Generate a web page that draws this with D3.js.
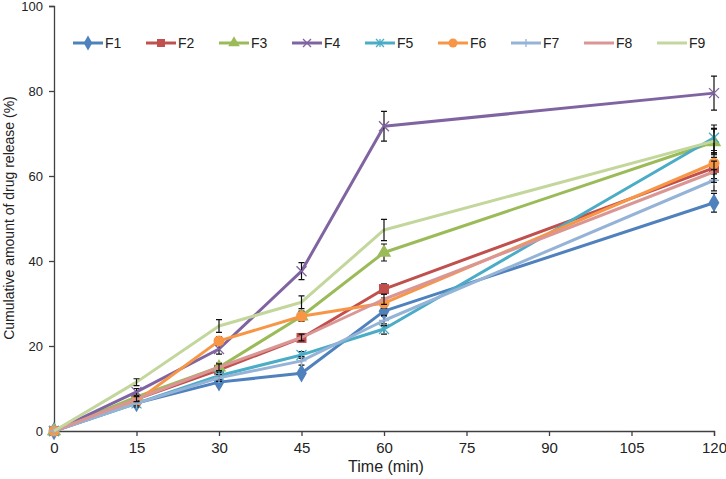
<!doctype html>
<html lang="en">
<head>
<meta charset="UTF-8" />
<title>Cumulative drug release</title>
<script src="https://d3js.org/d3.v7.min.js"></script>
<style>
	body { margin: 0; background: #fff; }
	svg { font-family: "Liberation Sans", Arial, sans-serif; }
	.axis path, .axis line { stroke: #404040; stroke-width: 1.3px; }
	.axis text { fill: #222; font-size: 13px; }
	.xaxis text { font-family: "Liberation Sans Narrow", "Liberation Sans", Arial, sans-serif; font-size: 15px; }
</style>
</head>
<body>
<svg width="726" height="479"></svg>
<script>
const times = [0, 15, 30, 45, 60, 120]
const seriesNames = ['F1', 'F2', 'F3', 'F4', 'F5', 'F6', 'F7', 'F8', 'F9']
const colors = ['#4F81BD', '#C0504D', '#9BBB59', '#8064A2', '#4BACC6', '#F79646', '#95B3D7', '#D99694', '#C3D69B']
const markers = ['diamond', 'square', 'triangle', 'x', 'star', 'circle', 'plus', 'none', 'none']

const F1 = [0, 6.6, 11.5, 13.6, 28.2, 53.7]
const F2 = [0, 7.5, 14.4, 21.9, 33.4, 61.9]
const F3 = [0, 8.0, 15.0, 27.0, 42.0, 68.0]
const F4 = [0, 9.2, 19.3, 37.6, 71.7, 79.5]
const F5 = [0, 6.5, 13.0, 17.9, 24.0, 69.0]
const F6 = [0, 7.0, 21.2, 27.0, 30.1, 63.0]
const F7 = [0, 6.5, 12.5, 16.5, 26.0, 59.0]
const F8 = [0, 7.5, 15.0, 22.0, 31.0, 61.0]
const F9 = [0, 11.5, 24.7, 30.3, 47.3, 68.2]

const F1err = [0, 0.6, 0.8, 0.6, 1.2, 2.2]
const F2err = [0, 0.6, 1.0, 0.8, 1.2, 2.5]
const F3err = [0, 0.6, 1.0, 1.2, 2.0, 3.0]
const F4err = [0, 0.8, 1.2, 2.0, 3.5, 4.0]
const F5err = [0, 0.8, 0.8, 0.8, 1.2, 3.0]
const F6err = [0, 0.6, 1.0, 1.0, 1.2, 2.5]
const F7err = [0, 0.6, 0.8, 1.0, 1.2, 2.5]
const F8err = [0, 0.6, 0.8, 0.8, 1.2, 2.5]
const F9err = [0, 0.8, 1.5, 1.5, 2.5, 3.0]

const values = [F1, F2, F3, F4, F5, F6, F7, F8, F9]
const errors = [F1err, F2err, F3err, F4err, F5err, F6err, F7err, F8err, F9err]
const xTicks = [0, 15, 30, 45, 60, 75, 90, 105, 120]
const yTicks = [0, 20, 40, 60, 80, 100]

const svg = d3.select('svg')
const x = d3.scaleLinear().domain([0, 120]).range([54, 714])
const y = d3.scaleLinear().domain([0, 100]).range([431, 6])

svg.append('g')
	.attr('class', 'axis xaxis')
	.attr('transform', 'translate(0,431)')
	.call(d3.axisBottom(x).tickValues(xTicks).tickSizeOuter(0).tickSize(5).tickPadding(6))

svg.append('g')
	.attr('class', 'axis')
	.attr('transform', 'translate(54,0)')
	.call(d3.axisLeft(y).tickValues(yTicks).tickSizeOuter(0).tickSize(5).tickPadding(6))

svg.append('text')
	.attr('x', 386).attr('y', 472)
	.attr('text-anchor', 'middle')
	.attr('font-family', '"Liberation Sans Narrow", "Liberation Sans", Arial, sans-serif')
	.attr('font-size', 16).attr('fill', '#222')
	.text('Time (min)')

svg.append('text')
	.attr('transform', 'translate(14,218) rotate(-90)')
	.attr('text-anchor', 'middle')
	.attr('font-size', 14).attr('fill', '#222')
	.text('Cumulative amount of drug release (%)')

function drawMarker(g, type, color, size) {
	const s = size
	if (type === 'diamond') {
		g.append('path').attr('d', d3.symbol(d3.symbolDiamond, s * s * 1.0)()).attr('fill', color)
	} else if (type === 'square') {
		g.append('rect').attr('x', -s / 2).attr('y', -s / 2).attr('width', s).attr('height', s).attr('fill', color)
	} else if (type === 'triangle') {
		g.append('path').attr('d', d3.symbol(d3.symbolTriangle, s * s * 0.9)()).attr('fill', color)
	} else if (type === 'circle') {
		g.append('circle').attr('r', s / 2 + 0.5).attr('fill', color)
	} else if (type === 'x') {
		const h = s / 2
		g.append('path').attr('d', `M${-h},${-h}L${h},${h}M${-h},${h}L${h},${-h}`)
			.attr('stroke', color).attr('stroke-width', 1.3).attr('fill', 'none')
	} else if (type === 'star') {
		const h = s / 2
		g.append('path').attr('d', `M${-h},${-h}L${h},${h}M${-h},${h}L${h},${-h}M0,${-h}L0,${h}`)
			.attr('stroke', color).attr('stroke-width', 1.3).attr('fill', 'none')
	} else if (type === 'plus') {
		const h = s / 2
		g.append('path').attr('d', `M${-h},0L${h},0M0,${-h}L0,${h}`)
			.attr('stroke', color).attr('stroke-width', 1.3).attr('fill', 'none')
	}
}

const line = d3.line().x((d) => x(d[0])).y((d) => y(d[1]))

seriesNames.forEach((name, i) => {
	const pts = times.map((t, j) => [t, values[i][j], errors[i][j]])
	const g = svg.append('g')
	g.append('path')
		.datum(pts)
		.attr('d', line)
		.attr('fill', 'none')
		.attr('stroke', colors[i])
		.attr('stroke-width', 3)
		.attr('stroke-linejoin', 'round')

	pts.filter((d) => d[2] > 0).forEach((d) => {
		const cx = x(d[0])
		const y1 = y(d[1] + d[2])
		const y2 = y(d[1] - d[2])
		g.append('path')
			.attr('d', `M${cx},${y1}L${cx},${y2}M${cx - 3},${y1}L${cx + 3},${y1}M${cx - 3},${y2}L${cx + 3},${y2}`)
			.attr('stroke', '#111').attr('stroke-width', 1.2).attr('fill', 'none')
	})

	pts.forEach((d) => {
		const m = g.append('g').attr('transform', `translate(${x(d[0])},${y(d[1])})`)
		drawMarker(m, markers[i], colors[i], 10)
	})
})

// legend
const legend = svg.append('g').attr('transform', 'translate(73,43)')
seriesNames.forEach((name, i) => {
	const item = legend.append('g').attr('transform', `translate(${i * 73},0)`)
	item.append('line').attr('x1', 0).attr('x2', 30)
		.attr('stroke', colors[i]).attr('stroke-width', 3)
	const m = item.append('g').attr('transform', 'translate(15,0)')
	drawMarker(m, markers[i], colors[i], 8)
	item.append('text').attr('x', 32).attr('y', 5)
		.attr('font-size', 14).attr('fill', '#222').text(name)
})
</script>
</body>
</html>
